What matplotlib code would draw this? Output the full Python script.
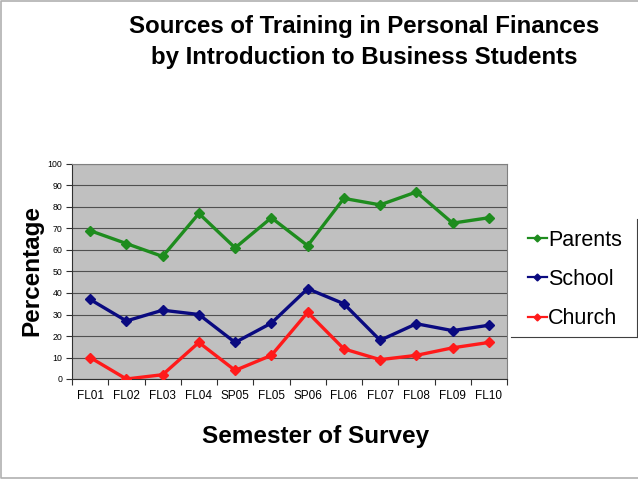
import matplotlib
matplotlib.use("Agg")
import matplotlib.pyplot as plt
from matplotlib.lines import Line2D
import numpy as np

semesters = ["FL01", "FL02", "FL03", "FL04", "SP05", "FL05", "SP06",
             "FL06", "FL07", "FL08", "FL09", "FL10"]
parents = [69, 63, 57, 77, 61, 75, 62, 84, 81, 87, 72.5, 75]
school = [37, 27, 32, 30, 17, 26, 42, 35, 18, 25.7, 22.5, 25]
church = [10, 0, 2, 17, 4, 11, 31, 14, 9, 11, 14.5, 17]
series_names = ["Parents", "School", "Church"]
series_colors = ["#1E8C1E", "#0A0A80", "#FF1A1A"]
y_ticks = list(range(0, 101, 10))

plt.rcParams['font.family'] = ['Liberation Sans', 'DejaVu Sans']

fig = plt.figure(figsize=(6.38, 4.79), dpi=100)
ax = fig.add_axes([72/638, 1-379/479, (507-72)/638, (379-164)/479])
ax.set_facecolor("#C0C0C0")

x = np.arange(len(semesters))
for name, vals, col in zip(series_names, [parents, school, church], series_colors):
    ax.plot(x, vals, color=col, lw=2.4, marker="D", ms=5.5, mec=col, mfc=col,
            label=name, zorder=3)

ax.set_xlim(-0.5, len(semesters) - 0.5)
ax.set_ylim(0, 100)
ax.set_yticks(y_ticks)
ax.set_yticklabels([str(t) for t in y_ticks], fontsize=6.3)
ax.yaxis.grid(True, color="#505050", lw=0.8)
ax.set_axisbelow(True)
ax.set_xticks(x)
ax.set_xticklabels(semesters, fontsize=8.5)
ax.set_xticks(np.arange(-0.5, len(semesters)), minor=True)
ax.tick_params(axis="x", which="major", length=0, pad=8)
ax.tick_params(axis="x", which="minor", length=4, width=0.8, color="#303030")
ax.tick_params(axis="y", length=4, width=0.8, color="#303030", pad=3)
for s in ["left", "bottom"]:
    ax.spines[s].set_color("#303030")
    ax.spines[s].set_linewidth(0.8)
for s in ["top", "right"]:
    ax.spines[s].set_color("#808080")
    ax.spines[s].set_linewidth(0.8)

fig.text(364/638, 1-33/479, "Sources of Training in Personal Finances",
         ha="center", va="baseline", fontsize=17.3, fontweight="bold")
fig.text(364/638, 1-64/479, "by Introduction to Business Students",
         ha="center", va="baseline", fontsize=17.3, fontweight="bold")
fig.text(316/638, 1-436/479, "Semester of Survey", ha="center", va="center",
         fontsize=17.5, fontweight="bold")
fig.text(32/638, 1-270/479, "Percentage", ha="center", va="center",
         rotation=90, fontsize=17.5, fontweight="bold")

handles = [Line2D([0], [0], color=c, lw=1.6, marker="D", ms=3.5) for c in series_colors]
leg = fig.legend(handles, series_names, loc="upper left",
                 bbox_to_anchor=(519/638, 1-221/479), frameon=False,
                 fontsize=15.5, handlelength=0.9, handletextpad=0.05,
                 labelspacing=0.85, borderaxespad=0)

# partial legend frame and slide border
fig.add_artist(Line2D([511/638, 636.5/638], [1-337/479, 1-337/479], color="#404040", lw=0.8))
fig.add_artist(Line2D([636.5/638, 636.5/638], [1-337/479, 1-219/479], color="#404040", lw=0.8))
fig.add_artist(Line2D([638/638, 0.8/638, 0.8/638, 638/638],
                      [1-0.8/479, 1-0.8/479, 1.5/479, 1.5/479],
                      color="#B0B0B0", lw=1.2))

fig.savefig("out.png", dpi=100)
